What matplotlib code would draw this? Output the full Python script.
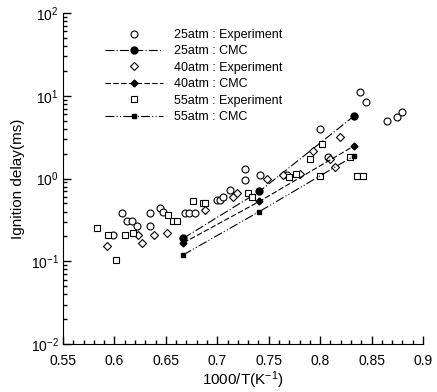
import matplotlib
matplotlib.use("Agg")
import matplotlib.pyplot as plt
import numpy as np
from matplotlib.ticker import MultipleLocator, LogLocator, NullFormatter, FormatStrFormatter

plt.rcParams['font.family'] = ['Liberation Sans', 'DejaVu Sans']
plt.rcParams['mathtext.default'] = 'regular'

# CMC model results
cmc_x = [0.667, 0.741, 0.833]
cmc_25 = [0.19, 0.70, 5.7]
cmc_40 = [0.167, 0.53, 2.48]
cmc_55 = [0.12, 0.40, 1.88]

# experiment, 25 atm
exp25_x = [0.599, 0.607, 0.612, 0.617, 0.622, 0.635, 0.635, 0.644, 0.647, 0.669,
           0.673, 0.678, 0.700, 0.703, 0.706, 0.712, 0.727, 0.727, 0.742, 0.768,
           0.800, 0.808, 0.839, 0.845, 0.865, 0.875, 0.880]
exp25_y = [0.21, 0.38, 0.305, 0.31, 0.266, 0.38, 0.266, 0.44, 0.40, 0.38,
           0.38, 0.38, 0.55, 0.55, 0.60, 0.72, 1.32, 0.95, 1.09, 1.09,
           3.97, 1.8, 11.0, 8.4, 4.95, 5.5, 6.3]

# experiment, 40 atm
exp40_x = [0.593, 0.623, 0.627, 0.639, 0.651, 0.688, 0.715, 0.719, 0.748, 0.764,
           0.780, 0.793, 0.810, 0.814, 0.819]
exp40_y = [0.153, 0.21, 0.167, 0.21, 0.22, 0.42, 0.60, 0.66, 1.0, 1.09,
           1.15, 2.16, 1.7, 1.39, 3.2]

# experiment, 55 atm
exp55_x = [0.583, 0.594, 0.602, 0.610, 0.618, 0.652, 0.657, 0.661, 0.676, 0.686,
           0.688, 0.730, 0.734, 0.770, 0.777, 0.790, 0.800, 0.802, 0.829, 0.836,
           0.842]
exp55_y = [0.25, 0.21, 0.104, 0.21, 0.22, 0.36, 0.31, 0.31, 0.53, 0.50,
           0.50, 0.66, 0.60, 1.05, 1.15, 1.74, 1.06, 2.6, 1.8, 1.06,
           1.06]

fig = plt.figure(figsize=(4.37, 3.92), dpi=100)
ax = fig.add_axes([0.144, 0.122, 0.824, 0.845])

ax.plot(exp25_x, exp25_y, 'o', mfc='white', mec='black', ms=5, mew=0.8,
        ls='none', label='25atm : Experiment')
ax.plot(cmc_x, cmc_25, 'o', color='black', ms=5, lw=0.8, ls=(0, (8, 2, 1, 2)),
        label='25atm : CMC')
ax.plot(exp40_x, exp40_y, 'D', mfc='white', mec='black', ms=4, mew=0.8,
        ls='none', label='40atm : Experiment')
ax.plot(cmc_x, cmc_40, 'D', color='black', ms=3.5, lw=0.8, ls=(0, (5, 2)),
        label='40atm : CMC')
ax.plot(exp55_x, exp55_y, 's', mfc='white', mec='black', ms=4, mew=0.8,
        ls='none', label='55atm : Experiment')
ax.plot(cmc_x, cmc_55, 's', color='black', ms=3.5, lw=0.8, ls=(0, (8, 2, 1, 2, 1, 2)),
        label='55atm : CMC')

ax.set_yscale('log')
ax.set_xlim(0.55, 0.9)
ax.set_ylim(1e-2, 1e2)
ax.xaxis.set_major_locator(MultipleLocator(0.05))
ax.xaxis.set_minor_locator(MultipleLocator(0.01))
ax.xaxis.set_major_formatter(FormatStrFormatter('%g'))
ax.yaxis.set_major_locator(LogLocator(base=10, numticks=10))
ax.yaxis.set_minor_locator(LogLocator(base=10, subs=np.arange(2, 10), numticks=10))
ax.yaxis.set_minor_formatter(NullFormatter())

ax.spines['top'].set_visible(False)
ax.spines['right'].set_visible(False)
ax.tick_params(which='both', direction='in', labelsize=10, width=1)
ax.tick_params(which='major', length=6)
ax.tick_params(which='minor', length=3)
ax.tick_params(axis='y', pad=3)
ax.tick_params(axis='x', pad=7)

ax.set_xlabel('1000/T(K$^{-1}$)', fontsize=11, labelpad=1)
ax.set_ylabel('Ignition delay(ms)', fontsize=11)

ax.legend(loc='upper left', bbox_to_anchor=(0.1, 0.97), frameon=False,
          fontsize=9, handlelength=4.6, handletextpad=0.9, labelspacing=0.35,
          borderpad=0)

fig.savefig('out.png', dpi=100)
